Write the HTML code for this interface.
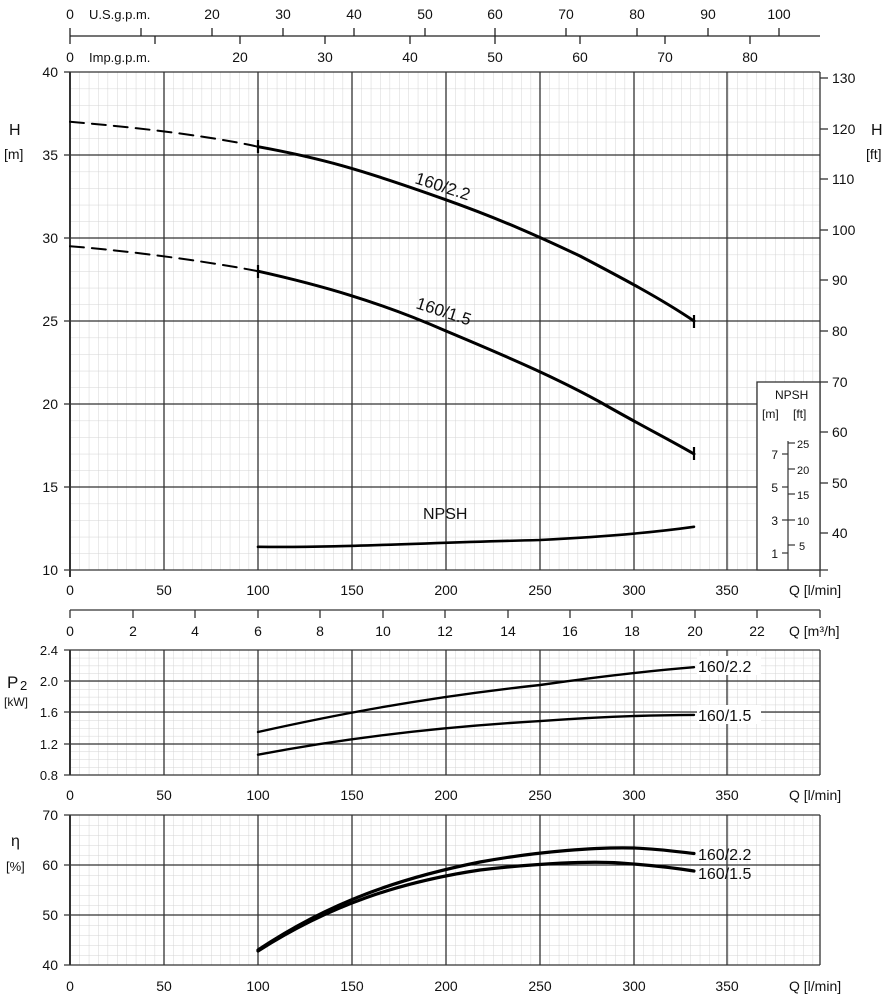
<!DOCTYPE html>
<html><head><meta charset="utf-8"><style>
html,body{margin:0;padding:0;background:#fff}
svg{display:block;font-size:14px}
text{font-family:"Liberation Sans","DejaVu Sans",sans-serif;fill:#111}
</style></head><body>
<svg width="891" height="1000" viewBox="0 0 891 1000" xmlns="http://www.w3.org/2000/svg" font-size="14">
<defs>
<pattern id="g1" x="70" y="72" width="9.4" height="16.6" patternUnits="userSpaceOnUse">
<path d="M0 0V16.6M0 0H9.4" stroke="#d4d4d4" stroke-width="1" fill="none"/></pattern>
<pattern id="g2" x="70" y="650" width="9.4" height="7.81" patternUnits="userSpaceOnUse">
<path d="M0 0V7.81M0 0H9.4" stroke="#d4d4d4" stroke-width="1" fill="none"/></pattern>
<pattern id="g3" x="70" y="815" width="9.4" height="10" patternUnits="userSpaceOnUse">
<path d="M0 0V10M0 0H9.4" stroke="#d4d4d4" stroke-width="1" fill="none"/></pattern>
</defs>

<!-- top scales -->
<g stroke="#222" stroke-width="1.3">
<line x1="70" y1="36" x2="820" y2="36"/>
<line x1="70" y1="28" x2="70" y2="44"/>
<line x1="141" y1="28" x2="141" y2="36"/><line x1="212" y1="28" x2="212" y2="36"/><line x1="283" y1="28" x2="283" y2="36"/><line x1="354" y1="28" x2="354" y2="36"/><line x1="425" y1="28" x2="425" y2="36"/><line x1="495" y1="28" x2="495" y2="36"/><line x1="566" y1="28" x2="566" y2="36"/><line x1="637" y1="28" x2="637" y2="36"/><line x1="708" y1="28" x2="708" y2="36"/><line x1="779" y1="28" x2="779" y2="36"/>
<line x1="155" y1="36" x2="155" y2="44"/><line x1="240" y1="36" x2="240" y2="44"/><line x1="325" y1="36" x2="325" y2="44"/><line x1="410" y1="36" x2="410" y2="44"/><line x1="495" y1="36" x2="495" y2="44"/><line x1="580" y1="36" x2="580" y2="44"/><line x1="665" y1="36" x2="665" y2="44"/><line x1="750" y1="36" x2="750" y2="44"/>
</g>
<g text-anchor="middle">
<text x="70" y="19">0</text><text x="212" y="19">20</text><text x="283" y="19">30</text><text x="354" y="19">40</text><text x="425" y="19">50</text><text x="495" y="19">60</text><text x="566" y="19">70</text><text x="637" y="19">80</text><text x="708" y="19">90</text><text x="779" y="19">100</text>
<text x="70" y="62">0</text><text x="240" y="62">20</text><text x="325" y="62">30</text><text x="410" y="62">40</text><text x="495" y="62">50</text><text x="580" y="62">60</text><text x="665" y="62">70</text><text x="750" y="62">80</text>
</g>
<text x="89" y="19" font-size="13">U.S.g.p.m.</text>
<text x="89" y="62" font-size="13">Imp.g.p.m.</text>

<!-- main plot -->
<rect x="70" y="72" width="687" height="498" fill="url(#g1)"/>
<rect x="757" y="72" width="63" height="310" fill="url(#g1)"/>
<g stroke="#333" stroke-width="1.3">
<line x1="70" y1="72" x2="820" y2="72"/>
<line x1="70" y1="155" x2="820" y2="155"/><line x1="70" y1="238" x2="820" y2="238"/><line x1="70" y1="321" x2="820" y2="321"/><line x1="70" y1="404" x2="757" y2="404"/><line x1="70" y1="487" x2="757" y2="487"/>
<line x1="64" y1="570" x2="828" y2="570"/>
<line x1="164" y1="72" x2="164" y2="570"/><line x1="258" y1="72" x2="258" y2="570"/><line x1="352" y1="72" x2="352" y2="570"/><line x1="446" y1="72" x2="446" y2="570"/><line x1="540" y1="72" x2="540" y2="570"/><line x1="634" y1="72" x2="634" y2="570"/><line x1="727" y1="72" x2="727" y2="570"/>
<line x1="70" y1="72" x2="70" y2="577" stroke-width="2"/>
<line x1="820" y1="72" x2="820" y2="577"/>
<line x1="64" y1="72" x2="70" y2="72"/><line x1="64" y1="155" x2="70" y2="155"/><line x1="64" y1="238" x2="70" y2="238"/><line x1="64" y1="321" x2="70" y2="321"/><line x1="64" y1="404" x2="70" y2="404"/><line x1="64" y1="487" x2="70" y2="487"/>
<line x1="820" y1="78" x2="828" y2="78"/><line x1="820" y1="129" x2="828" y2="129"/><line x1="820" y1="179" x2="828" y2="179"/><line x1="820" y1="230" x2="828" y2="230"/><line x1="820" y1="280" x2="828" y2="280"/><line x1="820" y1="331" x2="828" y2="331"/><line x1="820" y1="382" x2="828" y2="382"/><line x1="820" y1="432" x2="828" y2="432"/><line x1="820" y1="483" x2="828" y2="483"/><line x1="820" y1="533" x2="828" y2="533"/>
</g>
<!-- NPSH box -->
<rect x="757" y="382" width="63" height="188" fill="#fff" stroke="#333" stroke-width="1.3"/>
<g stroke="#333" stroke-width="1.2">
<line x1="788" y1="441" x2="788" y2="570"/>
<line x1="782" y1="454" x2="788" y2="454"/><line x1="782" y1="487" x2="788" y2="487"/><line x1="782" y1="520" x2="788" y2="520"/><line x1="782" y1="553" x2="788" y2="553"/>
<line x1="788" y1="443" x2="795" y2="443"/><line x1="788" y1="469" x2="795" y2="469"/><line x1="788" y1="494" x2="795" y2="494"/><line x1="788" y1="520" x2="795" y2="520"/><line x1="788" y1="545" x2="795" y2="545"/>
</g>
<text x="775" y="399" font-size="12">NPSH</text>
<text x="762" y="418" font-size="12">[m]</text><text x="793" y="418" font-size="12">[ft]</text>
<g font-size="12" text-anchor="end"><text x="778" y="459">7</text><text x="778" y="492">5</text><text x="778" y="525">3</text><text x="778" y="558">1</text></g>
<g font-size="11"><text x="797" y="448">25</text><text x="797" y="474">20</text><text x="797" y="499">15</text><text x="797" y="525">10</text><text x="799" y="550">5</text></g>

<g text-anchor="end"><text x="58" y="77">40</text><text x="58" y="160">35</text><text x="58" y="243">30</text><text x="58" y="326">25</text><text x="58" y="409">20</text><text x="58" y="492">15</text><text x="58" y="575">10</text></g>
<g><text x="832" y="83">130</text><text x="832" y="134">120</text><text x="832" y="184">110</text><text x="832" y="235">100</text><text x="832" y="285">90</text><text x="832" y="336">80</text><text x="832" y="387">70</text><text x="832" y="437">60</text><text x="832" y="488">50</text><text x="832" y="538">40</text></g>
<text x="9" y="135" font-size="16">H</text><text x="4" y="159" font-size="14">[m]</text>
<text x="871" y="135" font-size="16">H</text><text x="866" y="159" font-size="14">[ft]</text>
<g text-anchor="middle"><text x="70" y="595">0</text><text x="164" y="595">50</text><text x="258" y="595">100</text><text x="352" y="595">150</text><text x="446" y="595">200</text><text x="540" y="595">250</text><text x="634" y="595">300</text><text x="727" y="595">350</text></g>
<text x="789" y="595">Q [l/min]</text>

<!-- m3/h axis -->
<g stroke="#333" stroke-width="1.3"><line x1="70" y1="610" x2="820" y2="610"/>
<line x1="70" y1="610" x2="70" y2="618"/><line x1="133" y1="610" x2="133" y2="618"/><line x1="195" y1="610" x2="195" y2="618"/><line x1="258" y1="610" x2="258" y2="618"/><line x1="320" y1="610" x2="320" y2="618"/><line x1="383" y1="610" x2="383" y2="618"/><line x1="445" y1="610" x2="445" y2="618"/><line x1="508" y1="610" x2="508" y2="618"/><line x1="570" y1="610" x2="570" y2="618"/><line x1="632" y1="610" x2="632" y2="618"/><line x1="695" y1="610" x2="695" y2="618"/><line x1="757" y1="610" x2="757" y2="618"/><line x1="820" y1="610" x2="820" y2="618"/></g>
<g text-anchor="middle"><text x="70" y="636">0</text><text x="133" y="636">2</text><text x="195" y="636">4</text><text x="258" y="636">6</text><text x="320" y="636">8</text><text x="383" y="636">10</text><text x="445" y="636">12</text><text x="508" y="636">14</text><text x="570" y="636">16</text><text x="632" y="636">18</text><text x="695" y="636">20</text><text x="757" y="636">22</text></g>
<text x="789" y="636">Q [m³/h]</text>

<!-- P2 plot -->
<rect x="70" y="650" width="750" height="125" fill="url(#g2)"/>
<g stroke="#333" stroke-width="1.3">
<line x1="64" y1="650" x2="820" y2="650"/><line x1="64" y1="681" x2="820" y2="681"/><line x1="64" y1="712" x2="820" y2="712"/><line x1="64" y1="744" x2="820" y2="744"/><line x1="64" y1="775" x2="820" y2="775"/>
<line x1="164" y1="650" x2="164" y2="775"/><line x1="258" y1="650" x2="258" y2="775"/><line x1="352" y1="650" x2="352" y2="775"/><line x1="446" y1="650" x2="446" y2="775"/><line x1="540" y1="650" x2="540" y2="775"/><line x1="634" y1="650" x2="634" y2="775"/><line x1="727" y1="650" x2="727" y2="775"/>
<line x1="70" y1="650" x2="70" y2="775" stroke-width="2"/><line x1="820" y1="650" x2="820" y2="775"/>
</g>
<g text-anchor="end" font-size="13"><text x="58" y="655">2.4</text><text x="58" y="686">2.0</text><text x="58" y="717">1.6</text><text x="58" y="749">1.2</text><text x="58" y="780">0.8</text></g>
<text x="7" y="688" font-size="17">P</text><text x="20" y="690" font-size="13">2</text><text x="4" y="706" font-size="12">[kW]</text>
<g text-anchor="middle"><text x="70" y="800">0</text><text x="164" y="800">50</text><text x="258" y="800">100</text><text x="352" y="800">150</text><text x="446" y="800">200</text><text x="540" y="800">250</text><text x="634" y="800">300</text><text x="727" y="800">350</text></g>
<text x="789" y="800">Q [l/min]</text>

<!-- eff plot -->
<rect x="70" y="815" width="750" height="150" fill="url(#g3)"/>
<g stroke="#333" stroke-width="1.3">
<line x1="64" y1="815" x2="820" y2="815"/><line x1="64" y1="865" x2="820" y2="865"/><line x1="64" y1="915" x2="820" y2="915"/><line x1="64" y1="965" x2="820" y2="965"/>
<line x1="164" y1="815" x2="164" y2="965"/><line x1="258" y1="815" x2="258" y2="965"/><line x1="352" y1="815" x2="352" y2="965"/><line x1="446" y1="815" x2="446" y2="965"/><line x1="540" y1="815" x2="540" y2="965"/><line x1="634" y1="815" x2="634" y2="965"/><line x1="727" y1="815" x2="727" y2="965"/>
<line x1="70" y1="815" x2="70" y2="965" stroke-width="2"/><line x1="820" y1="815" x2="820" y2="965"/>
</g>
<g text-anchor="end"><text x="58" y="820">70</text><text x="58" y="870">60</text><text x="58" y="920">50</text><text x="58" y="970">40</text></g>
<text x="11" y="846" font-size="16">η</text><text x="6" y="871" font-size="13">[%]</text>
<g text-anchor="middle"><text x="70" y="991">0</text><text x="164" y="991">50</text><text x="258" y="991">100</text><text x="352" y="991">150</text><text x="446" y="991">200</text><text x="540" y="991">250</text><text x="634" y="991">300</text><text x="727" y="991">350</text></g>
<text x="789" y="991">Q [l/min]</text>

<!-- curves -->
<g fill="none" stroke="#000" stroke-width="3" stroke-linejoin="round" stroke-linecap="round">
<path d="M70 121.8 C120 126 200 134 258 146.7" stroke-dasharray="14 8" stroke-width="2"/>
<path d="M258 146.7 C320 158 360 169 446 199.8 C500 219 540 237 580 256 C620 277 660 298 694 321"/>
<path d="M70 246.3 C120 250 200 260 258 271.2" stroke-dasharray="14 8" stroke-width="2"/>
<path d="M258 271.2 C320 285 380 302 446 331 C520 362 560 380 600 402 C640 425 670 440 694 454"/>
<path d="M258 546.8 C330 548 420 543 540 540 C600 537 650 533 694 526.8" stroke-width="2.6"/>
<path d="M258 732 C330 716 420 698 540 685 C610 675 660 670 694 667.2" stroke-width="2.4"/>
<path d="M258 754.7 C330 741 420 728 540 721.1 C610 716 660 715 694 714.9" stroke-width="2.4"/>
<path d="M258 950 C330 902 400 878 480 862 C540 851 600 847 634 848 C660 849 680 852 694 853.5" stroke-width="3.2"/>
<path d="M258 951 C330 905 400 882 480 870 C540 863 590 861 620 863 C650 865 675 868 694 871" stroke-width="3.2"/>
</g>
<g stroke="#000" stroke-width="2.2"><line x1="258" y1="140" x2="258" y2="153"/><line x1="258" y1="265" x2="258" y2="278"/><line x1="694" y1="315" x2="694" y2="328"/><line x1="694" y1="447" x2="694" y2="460"/></g>

<g font-size="17">
<text x="414" y="183" transform="rotate(18 414 183)">160/2.2</text>
<text x="415" y="308" transform="rotate(18 415 308)">160/1.5</text>
</g>
<text x="423" y="519" font-size="16">NPSH</text>
<g font-size="16"><rect x="697" y="656" width="64" height="19" fill="#fff"/><text x="698" y="672">160/2.2</text>
<rect x="697" y="705" width="64" height="19" fill="#fff"/><text x="698" y="721">160/1.5</text>
<text x="698" y="860">160/2.2</text><text x="698" y="879">160/1.5</text></g>
</svg>
</body></html>
